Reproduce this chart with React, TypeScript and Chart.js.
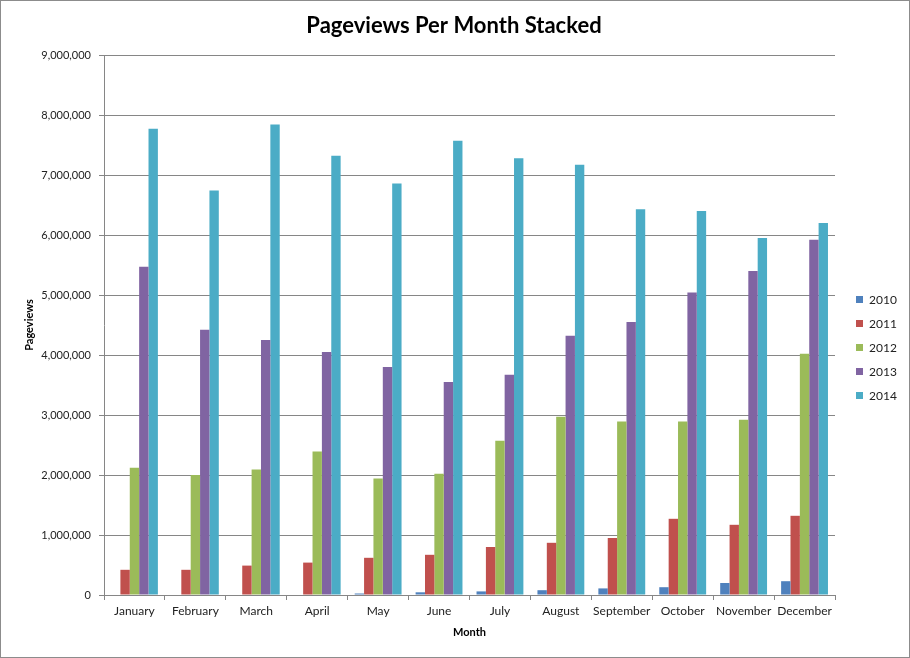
import React, { useEffect, useRef } from "react";
import { Chart, registerables } from "chart.js";

Chart.register(...registerables);

const months = ["January", "February", "March", "April", "May", "June", "July", "August", "September", "October", "November", "December"];
const seriesLabels = ["2010", "2011", "2012", "2013", "2014"];
const v2010 = [0, 0, 0, 0, 25000, 45000, 60000, 80000, 110000, 130000, 200000, 230000];
const v2011 = [420000, 420000, 490000, 540000, 620000, 670000, 800000, 870000, 950000, 1270000, 1170000, 1320000];
const v2012 = [2120000, 2000000, 2090000, 2390000, 1940000, 2020000, 2570000, 2970000, 2890000, 2890000, 2920000, 4020000];
const v2013 = [5470000, 4420000, 4250000, 4050000, 3800000, 3550000, 3670000, 4320000, 4550000, 5040000, 5400000, 5920000];
const v2014 = [7770000, 6740000, 7840000, 7320000, 6860000, 7570000, 7280000, 7170000, 6430000, 6400000, 5950000, 6200000];
const seriesColors = ["#4F81BD", "#C0504D", "#9BBB59", "#8064A2", "#4BACC6"];
const yMin = 0;
const yMax = 9000000;
const yStep = 1000000;
const chartTitle = "Pageviews Per Month Stacked";

const FONT = "Lato, 'Open Sans', 'Liberation Sans', sans-serif";
const AXIS = "#868686";

const decorPlugin = {
  id: "decor",
  afterDraw(chart: any) {
    const ctx = chart.ctx;
    ctx.save();
    // title
    ctx.font = `bold 22px ${FONT}`;
    ctx.fillStyle = "#000";
    ctx.textAlign = "center";
    ctx.textBaseline = "middle";
    ctx.fillText(chartTitle, 453, 25);
    // legend
    ctx.font = `12px ${FONT}`;
    ctx.textAlign = "left";
    chart.data.datasets.forEach((ds: any, i: number) => {
      const y = 299 + i * 24;
      ctx.fillStyle = ds.backgroundColor;
      ctx.fillRect(855, y - 4, 7, 7);
      ctx.fillStyle = "#222";
      ctx.fillText(ds.label, 868, y);
    });
    ctx.restore();
  },
};

export default function App() {
  const ref = useRef<HTMLCanvasElement | null>(null);

  useEffect(() => {
    if (!ref.current) return;
    const all = [v2010, v2011, v2012, v2013, v2014];
    const chart = new Chart(ref.current, {
      type: "bar",
      data: {
        labels: months,
        datasets: seriesLabels.map((label, i) => ({
          label,
          data: all[i],
          backgroundColor: seriesColors[i],
          borderWidth: 0,
          categoryPercentage: 5 / 6.5,
          barPercentage: 1,
        })),
      },
      options: {
        animation: false,
        responsive: false,
        devicePixelRatio: 1,
        layout: { padding: { left: 0, right: 74, top: 54, bottom: 0 } },
        plugins: {
          legend: { display: false },
          tooltip: { enabled: false },
          title: { display: false },
        },
        scales: {
          x: {
            grid: { offset: true, drawOnChartArea: false, drawTicks: true, tickLength: 5, color: AXIS },
            border: { display: true, color: AXIS },
            ticks: { color: "#222", font: { family: FONT, size: 12 }, padding: 4, maxRotation: 0, autoSkip: false },
            title: {
              display: true,
              text: "Month",
              color: "#000",
              font: { family: FONT, size: 11, weight: "bold" },
              padding: { top: 0, bottom: 18 },
            },
            afterFit(scale: any) {
              scale.height = 62;
            },
          },
          y: {
            min: yMin,
            max: yMax,
            grid: { color: AXIS, tickLength: 5, drawTicks: true },
            border: { display: true, color: AXIS },
            ticks: {
              stepSize: yStep,
              color: "#222",
              font: { family: FONT, size: 11 },
              padding: 8,
              callback: (v: any) => Number(v).toLocaleString("en-US"),
            },
            title: {
              display: true,
              text: "Pageviews",
              color: "#000",
              font: { family: FONT, size: 11, weight: "bold" },
              padding: { top: 22, bottom: 0 },
            },
            afterFit(scale: any) {
              scale.width = 103;
            },
          },
        },
      },
      plugins: [decorPlugin],
    } as any);
    return () => chart.destroy();
  }, []);

  return (
    <div
      style={{
        position: "absolute",
        left: 0,
        top: 0,
        width: 910,
        height: 658,
        boxSizing: "border-box",
        border: "1px solid #8c8c8c",
        background: "#fff",
      }}
    >
      <canvas ref={ref} width={908} height={656} style={{ display: "block", width: 908, height: 656 }} />
    </div>
  );
}
